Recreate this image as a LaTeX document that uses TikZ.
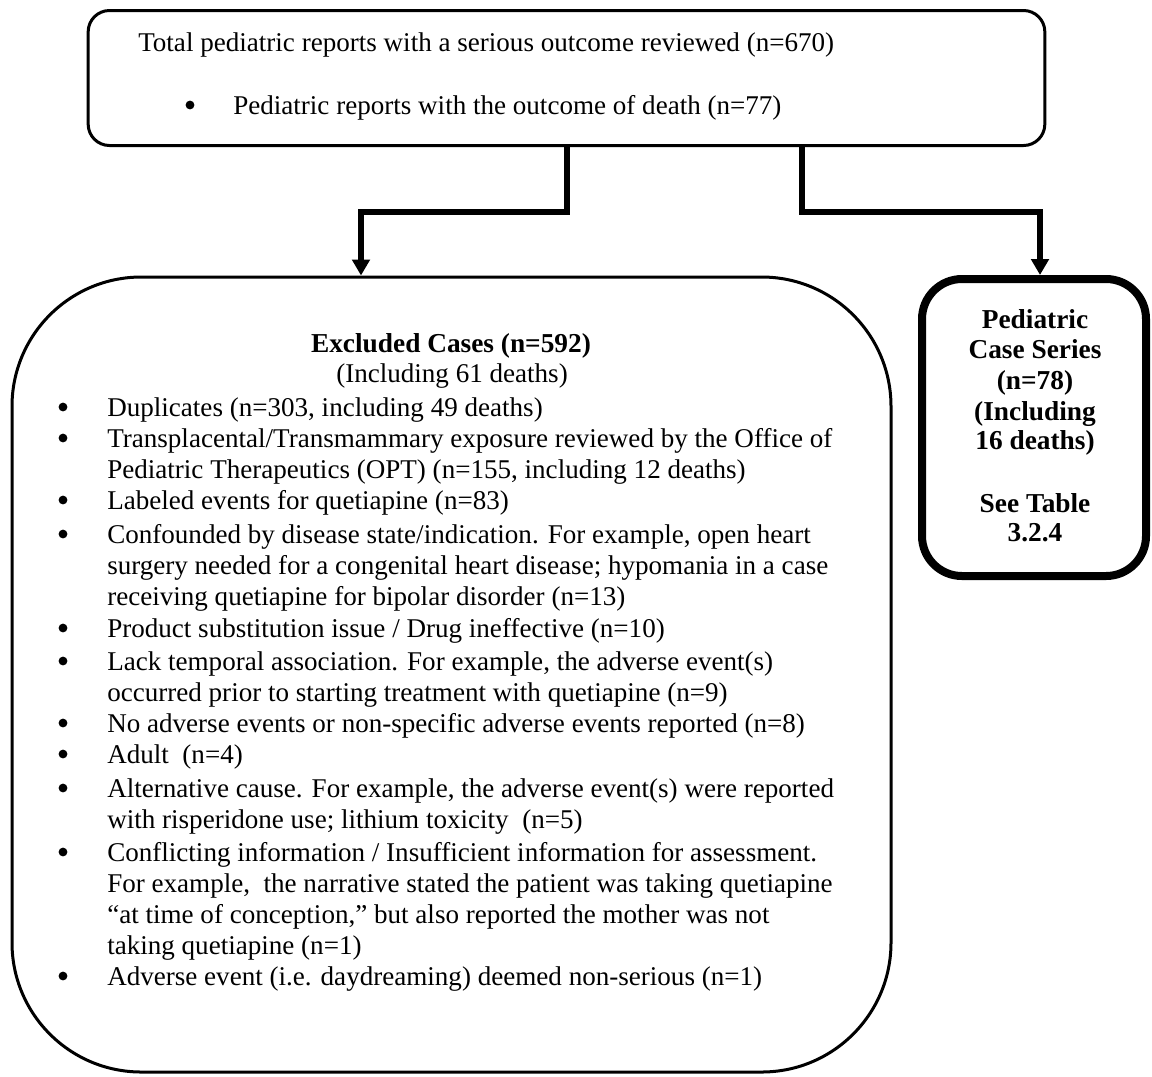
\documentclass[tikz,border=0pt]{standalone}
\usepackage{fontspec}
\setmainfont{Liberation Serif}
\usetikzlibrary{arrows.meta}
\tikzset{
  txt/.style={anchor=base west, inner sep=0pt, font=\fontsize{20.3}{24}\selectfont},
  ctxt/.style={anchor=base, inner sep=0pt, font=\fontsize{20.3}{24}\selectfont},
  btxt/.style={anchor=base, inner sep=0pt, font=\fontsize{20.5}{24}\selectfont\bfseries},
  bul/.style={circle, fill=black, inner sep=0pt, minimum size=6.6pt},
  box/.style={draw, rectangle, inner sep=0pt, line width=2.25pt},
  conn/.style={line width=3.8pt, -{Triangle[length=12pt,width=13pt]}},
}
\begin{document}
\begin{tikzpicture}[x=0.75pt,y=-0.75pt]
\useasboundingbox (0,0) rectangle (1152,1076);

% boxes
\node[box, rounded corners=16pt, minimum width=717.5pt, minimum height=101.25pt] (top) at (566.5,78) {};
\node[box, rounded corners=97pt, minimum width=659.25pt, minimum height=596.25pt] (excl) at (451.5,674.5) {};
\node[box, line width=6pt, rounded corners=30pt, minimum width=168pt, minimum height=222.75pt] (case) at (1034,427.5) {};

% connectors
\draw[conn] (567,0 |- top.south) |- (361,212) -- (361,0 |- excl.north);
\draw[conn] (802,0 |- top.south) |- (1040,212) -- (1040,0 |- case.north);

% top box text
\node[txt] (t1) at (138,51) {Total pediatric reports with a serious outcome reviewed (n=670)};
\node[bul] (tb) at (190,105) {};
\node[txt] (t2) at (233,114) {Pediatric reports with the outcome of death (n=77)};

% excluded heading
\node[btxt] (eh) at (451,352) {Excluded Cases (n=592)};
\node[ctxt] (eh2) at (452,382) {(Including 61 deaths)};

% bullets
\node[bul] (b1) at (63,407) {};
\node[bul] (b2) at (63,438) {};
\node[bul] (b3) at (63,500) {};
\node[bul] (b4) at (63,534) {};
\node[bul] (b5) at (63,628) {};
\node[bul] (b6) at (63,661) {};
\node[bul] (b7) at (63,723) {};
\node[bul] (b8) at (63,754) {};
\node[bul] (b9) at (63,788) {};
\node[bul] (b10) at (63,852) {};
\node[bul] (b11) at (63,976) {};

% list lines
\node[txt] (l1) at (107,416) {Duplicates (n=303, including 49 deaths)};
\node[txt] (l2) at (107,447) {Transplacental/Transmammary exposure reviewed by the Office of};
\node[txt] (l3) at (107,478) {Pediatric Therapeutics (OPT) (n=155, including 12 deaths)};
\node[txt] (l4) at (107,509) {Labeled events for quetiapine (n=83)};
\node[txt] (l5) at (107,543) {Confounded by disease state/indication. For example, open heart};
\node[txt] (l6) at (107,574) {surgery needed for a congenital heart disease; hypomania in a case};
\node[txt] (l7) at (107,605) {receiving quetiapine for bipolar disorder (n=13)};
\node[txt] (l8) at (107,637) {Product substitution issue / Drug ineffective (n=10)};
\node[txt] (l9) at (107,670) {Lack temporal association. For example, the adverse event(s)};
\node[txt] (l10) at (107,701) {occurred prior to starting treatment with quetiapine (n=9)};
\node[txt] (l11) at (107,732) {No adverse events or non-specific adverse events reported (n=8)};
\node[txt] (l12) at (107,763) {Adult\ \ (n=4)};
\node[txt] (l13) at (107,797) {Alternative cause. For example, the adverse event(s) were reported};
\node[txt] (l14) at (107,828) {with risperidone use; lithium toxicity\ \ (n=5)};
\node[txt] (l15) at (107,861) {Conflicting information / Insufficient information for assessment.};
\node[txt] (l16) at (107,892) {For example,\ \ the narrative stated the patient was taking quetiapine};
\node[txt] (l17) at (107,923) {“at time of conception,” but also reported the mother was not};
\node[txt] (l18) at (107,954) {taking quetiapine (n=1)};
\node[txt] (l19) at (107,985) {Adverse event (i.e. daydreaming) deemed non-serious (n=1)};

% case series text
\node[btxt] (c1) at (1035,328) {Pediatric};
\node[btxt] (c2) at (1035,358) {Case Series};
\node[btxt] (c3) at (1035,389) {(n=78)};
\node[btxt] (c4) at (1035,420) {(Including};
\node[btxt] (c5) at (1035,449) {16 deaths)};
\node[btxt] (c6) at (1035,512) {See Table};
\node[btxt] (c7) at (1035,541) {3.2.4};
\end{tikzpicture}
\end{document}
